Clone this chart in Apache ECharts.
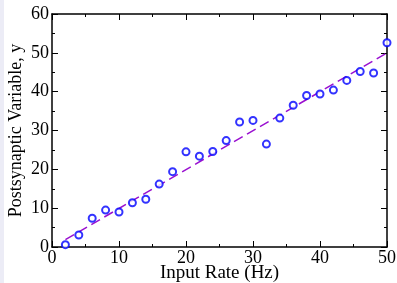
<!DOCTYPE html>
<html>
<head>
<meta charset="utf-8">
<script src="https://cdn.jsdelivr.net/npm/echarts@6/dist/echarts.min.js"></script>
<style>
  html,body{margin:0;padding:0;background:#fff;}
  #chart{width:397px;height:283px;}
</style>
</head>
<body>
<div id="chart"></div>
<script>
// input rate (Hz)
var rates = [2,4,6,8,10,12,14,16,18,20,22,24,26,28,30,32,34,36,38,40,42,44,46,48,50];
// postsynaptic variable
var values = [0.6,3.1,7.4,9.5,9.0,11.4,12.3,16.2,19.4,24.5,23.4,24.6,27.4,32.2,32.6,26.5,33.2,36.5,39.0,39.4,40.4,42.9,45.2,44.8,52.6];
// fitted line end points
var fitX = [2,50];
var fitY = [1.9,50.0];

var font = 'Liberation Serif';
var points = rates.map(function(r,i){ return [r, values[i]]; });
var fit = fitX.map(function(x,i){ return [x, fitY[i]]; });

function axisBase(show){
    return {
        type:'value',
        nameMoveOverlap:false,
        axisLine:{show:true,onZero:false,lineStyle:{color:'#000',width:1.5}},
        axisTick:{show:true,inside:true,length:6,lineStyle:{color:'#000',width:1}},
        minorTick:{show:true,splitNumber:2,length:3,lineStyle:{color:'#000',width:1}},
        splitLine:{show:false},
        axisLabel:{show:show,color:'#000',fontFamily:font,fontSize:18},
        nameTextStyle:{color:'#000',fontFamily:font,fontSize:19}
    }
}

var myChart = echarts.init(document.getElementById('chart'));
var xb = axisBase(true), xt = axisBase(false), yl = axisBase(true), yr = axisBase(false);
var option = {
    animation:false,
    backgroundColor:'#fff',
    graphic:[{type:'rect',left:0,top:0,shape:{width:4,height:283},style:{fill:'#ececf6'}}],
    grid:{left:52,right:10,top:14,bottom:36,containLabel:false,outerBoundsMode:'none'},
    xAxis:[
        Object.assign(xb,{position:'bottom',min:0,max:50,interval:10,name:'Input Rate (Hz)',nameLocation:'middle',nameGap:17,
            axisLabel:Object.assign(xb.axisLabel,{margin:2})}),
        Object.assign(xt,{position:'top',min:0,max:50,interval:10})
    ],
    yAxis:[
        Object.assign(yl,{position:'left',min:0,max:60,interval:10,name:'Postsynaptic Variable, y',nameLocation:'middle',nameGap:27,
            nameTextStyle:{color:'#000',fontFamily:font,fontSize:18},axisLabel:Object.assign(yl.axisLabel,{margin:3})}),
        Object.assign(yr,{position:'right',min:0,max:60,interval:10})
    ],
    series:[
        {
            type:'line',
            data:fit,
            symbol:'none',
            lineStyle:{color:'#9a10d0',width:1.5,type:[10,5]},
            z:1
        },
        {
            type:'scatter',
            data:points,
            symbol:'emptyCircle',
            symbolSize:7,
            itemStyle:{color:'#0000ff',borderColor:'#0000ff',borderWidth:1},
            z:2
        }
    ]
};
myChart.setOption(option);
</script>
</body>
</html>
